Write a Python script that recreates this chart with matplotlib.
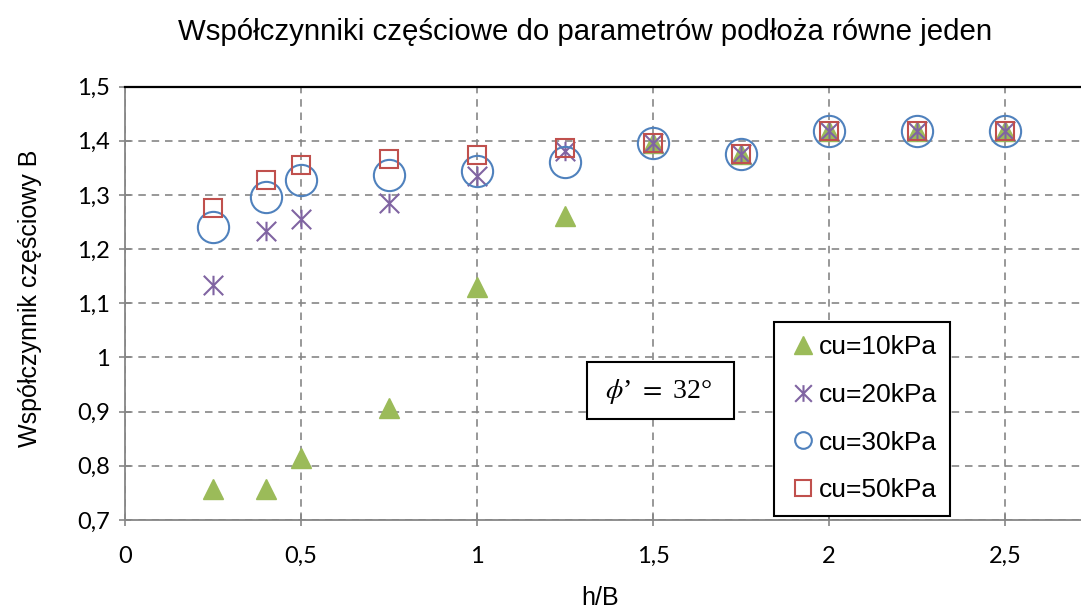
import numpy as np
import matplotlib
matplotlib.use("Agg")
import matplotlib.pyplot as plt
from matplotlib.path import Path
from matplotlib.patches import Rectangle

# h/B ratios and partial coefficient B for each undrained strength
h_B = [0.25, 0.4, 0.5, 0.75, 1.0, 1.25, 1.5, 1.75, 2.0, 2.25, 2.5]
cu10 = [0.757, 0.757, 0.815, 0.907, 1.130, 1.261, 1.396, 1.376, 1.417, 1.417, 1.417]
cu20 = [1.133, 1.233, 1.256, 1.285, 1.335, 1.381, 1.396, 1.376, 1.417, 1.417, 1.417]
cu30 = [1.241, 1.296, 1.328, 1.337, 1.344, 1.361, 1.396, 1.376, 1.417, 1.417, 1.417]
cu50 = [1.276, 1.328, 1.356, 1.367, 1.374, 1.387, 1.396, 1.376, 1.417, 1.417, 1.417]
labels = ["cu=10kPa", "cu=20kPa", "cu=30kPa", "cu=50kPa"]

x_ticks = [0, 0.5, 1, 1.5, 2, 2.5]
x_tick_labels = ["0", "0,5", "1", "1,5", "2", "2,5"]
y_ticks = [0.7, 0.8, 0.9, 1.0, 1.1, 1.2, 1.3, 1.4, 1.5]
y_tick_labels = ["0,7", "0,8", "0,9", "1", "1,1", "1,2", "1,3", "1,4", "1,5"]

GREEN = "#9BBB59"
PURPLE = "#8064A2"
BLUE = "#4F81BD"
RED = "#C0504D"
GRID = "#868686"

plt.rcParams["mathtext.fontset"] = "stix"

# asterisk marker: vertical stroke plus an X
star = Path([(0, -1), (0, 1), (-1, -1), (1, 1), (-1, 1), (1, -1)],
            [Path.MOVETO, Path.LINETO, Path.MOVETO, Path.LINETO, Path.MOVETO, Path.LINETO])

W, H = 1081, 612
fig = plt.figure(figsize=(W / 100, H / 100), dpi=100)
ax = fig.add_axes([125 / W, 1 - 520 / H, 1 - 125 / W, (520 - 86.5) / H])

ax.plot(h_B, cu10, ls="none", marker="^", ms=14.5, color=GREEN, mec=GREEN, label=labels[0], zorder=3)
ax.plot(h_B, cu20, ls="none", marker=star, ms=14, mfc="none", mec=PURPLE, mew=1.5, label=labels[1], zorder=4)
ax.plot(h_B, cu30, ls="none", marker="o", ms=22.5, mfc="none", mec=BLUE, mew=1.5, label=labels[2], zorder=5)
ax.plot(h_B, cu50, ls="none", marker="s", ms=12.5, mfc="none", mec=RED, mew=1.5, label=labels[3], zorder=6)

ax.set_xlim(0, 956 / 352)
ax.set_ylim(0.7, 1.5)
ax.set_xticks(x_ticks)
ax.set_xticklabels(x_tick_labels)
ax.set_yticks(y_ticks)
ax.set_yticklabels(y_tick_labels)

ax.grid(True, color=GRID, lw=1.2, ls=(0, (4.5, 3.5)), zorder=1)
ax.set_axisbelow(True)

for s in ["left", "bottom"]:
    ax.spines[s].set_color(GRID)
    ax.spines[s].set_linewidth(1.3)
ax.spines["right"].set_visible(False)
ax.spines["top"].set_color("black")
ax.spines["top"].set_linewidth(1.6)

ax.tick_params(axis="both", direction="inout", color=GRID, width=1.2)
ax.tick_params(axis="y", length=8, pad=7)
ax.tick_params(axis="x", length=9, pad=14)
for t in ax.get_xticklabels() + ax.get_yticklabels():
    t.set_fontfamily("Lato")
    t.set_fontsize(17)

fig.text(585 / W, 1 - 32 / H, "Współczynniki częściowe do parametrów podłoża równe jeden",
         ha="center", va="center", family="Liberation Sans", fontsize=21.2)
fig.text(30 / W, 1 - 298 / H, "Współczynnik częściowy B", rotation=90,
         ha="center", va="center", family="Liberation Sans", fontsize=18)
fig.text(600 / W, 1 - 598 / H, "h/B", ha="center", va="center",
         family="Liberation Sans", fontsize=18)

leg = ax.legend(loc="upper left", bbox_to_anchor=(774 / W, 1 - 322 / H),
                bbox_transform=fig.transFigure, prop={"family": "Liberation Sans", "size": 19},
                frameon=True, fancybox=False, framealpha=1, edgecolor="black",
                borderpad=0.5, labelspacing=0.9, handlelength=1.2, handletextpad=0.0,
                borderaxespad=0)
leg.get_frame().set_linewidth(1.5)
for h, ms in zip(leg.legend_handles, [12.5, 12, 12, 12]):
    h.set_markersize(ms)

# friction angle box
fig.patches.append(Rectangle((587 / W, 1 - 419 / H), 147 / W, 57 / H,
                             transform=fig.transFigure, fc="white", ec="black", lw=1.5, zorder=7))
fig.text(659 / W, 1 - 391 / H, r"$\phi$’ $=$ 32°", ha="center", va="center",
         family="Liberation Serif", fontsize=20, zorder=8)

fig.savefig("out.png", dpi=100)
